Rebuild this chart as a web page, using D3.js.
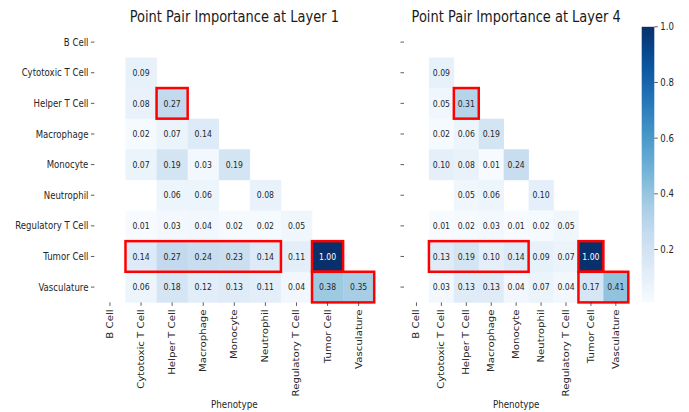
<!DOCTYPE html>
<html>
<head>
<meta charset="utf-8">
<script src="https://cdn.jsdelivr.net/npm/d3@7"></script>
<style>
  body { margin: 0; background: #fff; }
  text { font-family: "DejaVu Sans", sans-serif; }
</style>
</head>
<body>
<svg id="chart" width="689" height="412"></svg>
<script>
// phenotype categories, same on both axes
var phenotypes = ["B Cell", "Cytotoxic T Cell", "Helper T Cell", "Macrophage", "Monocyte",
  "Neutrophil", "Regulatory T Cell", "Tumor Cell", "Vasculature"];

// lower triangle values, null = masked / empty
var layer1 = [
  [null],
  [null, 0.09],
  [null, 0.08, 0.27],
  [null, 0.02, 0.07, 0.14],
  [null, 0.07, 0.19, 0.03, 0.19],
  [null, null, 0.06, 0.06, null, 0.08],
  [null, 0.01, 0.03, 0.04, 0.02, 0.02, 0.05],
  [null, 0.14, 0.27, 0.24, 0.23, 0.14, 0.11, 1.00],
  [null, 0.06, 0.18, 0.12, 0.13, 0.11, 0.04, 0.38, 0.35]
];
var layer4 = [
  [null],
  [null, 0.09],
  [null, 0.05, 0.31],
  [null, 0.02, 0.06, 0.19],
  [null, 0.10, 0.08, 0.01, 0.24],
  [null, null, 0.05, 0.06, null, 0.10],
  [null, 0.01, 0.02, 0.03, 0.01, 0.02, 0.05],
  [null, 0.13, 0.19, 0.10, 0.14, 0.09, 0.07, 1.00],
  [null, 0.03, 0.13, 0.13, 0.04, 0.07, 0.04, 0.17, 0.41]
];

// highlighted boxes: [row, first col, last col]
var boxes1 = [[2, 2, 2], [7, 1, 5], [7, 7, 7], [8, 7, 8]];
var boxes4 = [[2, 2, 2], [7, 1, 4], [7, 7, 7], [8, 7, 8]];

var cbTicks = [0.2, 0.4, 0.6, 0.8, 1.0];
var vmin = 0.01, vmax = 1.0;

var svg = d3.select("#chart");
var SX = 0.84; // text looks horizontally squeezed in the reference
var tickFont = "10.2px";

var color = d3.scaleLinear()
  .domain(d3.range(9).map(function (i) { return vmin + i * (vmax - vmin) / 8; }))
  .range(d3.schemeBlues[9])
  .clamp(true);

function lum(c) {
  var rgb = d3.rgb(c);
  var ch = [rgb.r, rgb.g, rgb.b].map(function (v) {
    v = v / 255;
    return v <= 0.03928 ? v / 12.92 : Math.pow((v + 0.055) / 1.055, 2.4);
  });
  return 0.2126 * ch[0] + 0.7152 * ch[1] + 0.0722 * ch[2];
}

var yTop = 26.8, yBottom = 302.4;

function heatmap(data, boxes, x0, x1, title, showYLabels) {
  var x = d3.scaleBand().domain(d3.range(9)).range([x0, x1]);
  var y = d3.scaleBand().domain(d3.range(9)).range([yTop, yBottom]);
  var g = svg.append("g");

  var cells = [];
  data.forEach(function (row, r) {
    row.forEach(function (v, c) {
      if (v !== null) cells.push({ r: r, c: c, v: v });
    });
  });

  g.selectAll("rect.cell")
    .data(cells)
    .enter()
    .append("rect")
    .attr("class", "cell")
    .attr("x", function (d) { return x(d.c); })
    .attr("y", function (d) { return y(d.r); })
    .attr("width", x.bandwidth() + 0.3)
    .attr("height", y.bandwidth() + 0.3)
    .attr("fill", function (d) { return color(d.v); });

  g.selectAll("text.annot")
    .data(cells)
    .enter()
    .append("text")
    .attr("class", "annot")
    .attr("transform", function (d) {
      return "translate(" + (x(d.c) + x.bandwidth() / 2) + "," + (y(d.r) + y.bandwidth() / 2) + ") scale(" + SX + ",1)";
    })
    .attr("text-anchor", "middle")
    .attr("dy", "0.35em")
    .style("font-size", "9.2px")
    .attr("fill", function (d) { return lum(color(d.v)) > 0.408 ? "#262626" : "#fff"; })
    .text(function (d) { return d.v.toFixed(2); });

  g.selectAll("rect.box")
    .data(boxes)
    .enter()
    .append("rect")
    .attr("class", "box")
    .attr("x", function (d) { return x(d[1]); })
    .attr("y", function (d) { return y(d[0]); })
    .attr("width", function (d) { return x(d[2]) + x.bandwidth() - x(d[1]); })
    .attr("height", y.bandwidth())
    .attr("fill", "none")
    .attr("stroke", "#ff0000")
    .attr("stroke-width", 2.5);

  // y ticks
  g.selectAll("line.ytick")
    .data(d3.range(9))
    .enter()
    .append("line")
    .attr("class", "ytick")
    .attr("x1", x0 - 3.5).attr("x2", x0)
    .attr("y1", function (d) { return y(d) + y.bandwidth() / 2; })
    .attr("y2", function (d) { return y(d) + y.bandwidth() / 2; })
    .attr("stroke", "#333").attr("stroke-width", 0.8);

  if (showYLabels) {
    g.selectAll("text.ylab")
      .data(phenotypes)
      .enter()
      .append("text")
      .attr("class", "ylab")
      .attr("transform", function (d, i) {
        return "translate(" + (x0 - 6) + "," + (y(i) + y.bandwidth() / 2) + ") scale(" + SX + ",1)";
      })
      .attr("text-anchor", "end")
      .attr("dy", "0.35em")
      .style("font-size", tickFont)
      .attr("fill", "#262626")
      .text(function (d) { return d; });
  }

  // x ticks
  g.selectAll("line.xtick")
    .data(d3.range(9))
    .enter()
    .append("line")
    .attr("class", "xtick")
    .attr("y1", yBottom).attr("y2", yBottom + 3.5)
    .attr("x1", function (d) { return x(d) + x.bandwidth() / 2; })
    .attr("x2", function (d) { return x(d) + x.bandwidth() / 2; })
    .attr("stroke", "#333").attr("stroke-width", 0.8);

  g.selectAll("text.xlab")
    .data(phenotypes)
    .enter()
    .append("text")
    .attr("class", "xlab")
    .attr("transform", function (d, i) {
      return "translate(" + (x(i) + x.bandwidth() / 2) + "," + (yBottom + 7) + ") scale(" + SX + ",1) rotate(-90)";
    })
    .attr("text-anchor", "end")
    .attr("dy", "0.35em")
    .style("font-size", tickFont)
    .attr("fill", "#262626")
    .text(function (d) { return d; });

  g.append("text")
    .attr("transform", "translate(" + ((x0 + x1) / 2) + ",408) scale(" + SX + ",1)")
    .attr("text-anchor", "middle")
    .style("font-size", "10.4px")
    .attr("fill", "#262626")
    .text("Phenotype");

  g.append("text")
    .attr("transform", "translate(" + ((x0 + x1) / 2) + ",21.5) scale(" + SX + ",1)")
    .attr("text-anchor", "middle")
    .style("font-size", "15.5px")
    .attr("fill", "#1a1a1a")
    .text(title);
}

heatmap(layer1, boxes1, 94.4, 374.2, "Point Pair Importance at Layer 1", true);
heatmap(layer4, boxes4, 404, 628.3, "Point Pair Importance at Layer 4", false);

// colorbar
var cbX = 641.7, cbW = 12.6;
var cbY = d3.scaleLinear().domain([vmin, vmax]).range([yBottom, yTop]);
var grad = svg.append("defs").append("linearGradient")
  .attr("id", "cbgrad")
  .attr("x1", 0).attr("y1", 1).attr("x2", 0).attr("y2", 0);
grad.selectAll("stop")
  .data(d3.range(0, 1.0001, 0.05))
  .enter()
  .append("stop")
  .attr("offset", function (d) { return d; })
  .attr("stop-color", function (d) { return color(vmin + d * (vmax - vmin)); });

svg.append("rect")
  .attr("x", cbX).attr("y", yTop)
  .attr("width", cbW).attr("height", yBottom - yTop)
  .attr("fill", "url(#cbgrad)");

var cb = svg.append("g");
cb.selectAll("line")
  .data(cbTicks)
  .enter()
  .append("line")
  .attr("x1", cbX + cbW).attr("x2", cbX + cbW + 3.5)
  .attr("y1", function (d) { return cbY(d); })
  .attr("y2", function (d) { return cbY(d); })
  .attr("stroke", "#333").attr("stroke-width", 0.8);
cb.selectAll("text")
  .data(cbTicks)
  .enter()
  .append("text")
  .attr("transform", function (d) {
    return "translate(" + (cbX + cbW + 6) + "," + cbY(d) + ") scale(" + SX + ",1)";
  })
  .attr("dy", "0.35em")
  .style("font-size", tickFont)
  .attr("fill", "#262626")
  .text(function (d) { return d.toFixed(1); });
</script>
</body>
</html>
